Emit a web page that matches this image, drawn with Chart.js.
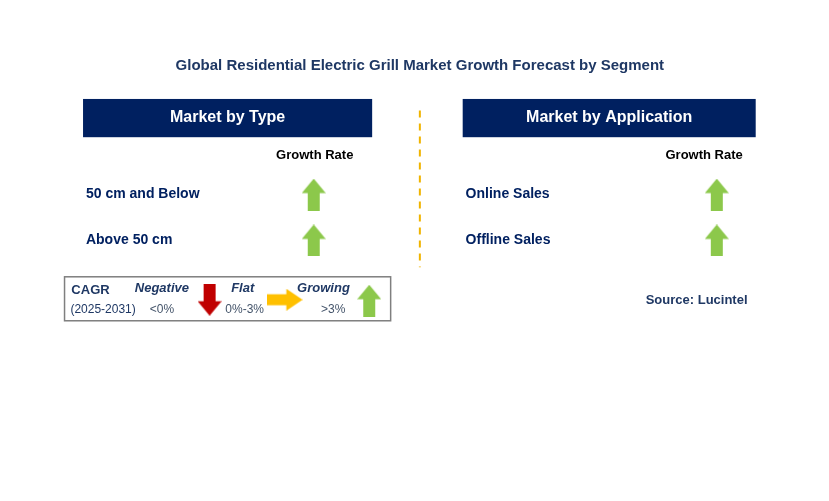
<!DOCTYPE html><html><head><meta charset="utf-8">
<script src="https://cdn.jsdelivr.net/npm/chart.js@4"></script>
<style>html,body{margin:0;padding:0;background:#fff}#w{width:829px;height:501px}</style></head><body>
<div id="w"><canvas id="c"></canvas></div>
<script>
const title = "Global Residential Electric Grill Market Growth Forecast by Segment";
const panels = ["Market by Type", "Market by Application"];
const typeCategories = ["50 cm and Below", "Above 50 cm"];
const appCategories = ["Online Sales", "Offline Sales"];
const typeGrowth = ["up", "up"];
const appGrowth = ["up", "up"];
const legendLabels = ["Negative", "Flat", "Growing"];
const legendRanges = ["<0%", "0%-3%", ">3%"];

function arrow(dir, color) {
  const c = document.createElement('canvas');
  const w = dir === 'right' ? 36 : 24, h = dir === 'right' ? 22 : 32;
  c.width = w; c.height = h;
  const g = c.getContext('2d'); g.fillStyle = color; g.beginPath();
  if (dir === 'up') { g.moveTo(w/2,0); g.lineTo(w,h*0.45); g.lineTo(w*0.75,h*0.45); g.lineTo(w*0.75,h); g.lineTo(w*0.25,h); g.lineTo(w*0.25,h*0.45); g.lineTo(0,h*0.45); }
  else if (dir === 'down') { g.moveTo(w/2,h); g.lineTo(w,h*0.55); g.lineTo(w*0.75,h*0.55); g.lineTo(w*0.75,0); g.lineTo(w*0.25,0); g.lineTo(w*0.25,h*0.55); g.lineTo(0,h*0.55); }
  else { g.moveTo(w,h/2); g.lineTo(w*0.55,0); g.lineTo(w*0.55,h*0.25); g.lineTo(0,h*0.25); g.lineTo(0,h*0.75); g.lineTo(w*0.55,h*0.75); g.lineTo(w*0.55,h); }
  g.closePath(); g.fill(); return c;
}
const upG = arrow('up', '#8cc84b'), downR = arrow('down', '#c00000'), rightY = arrow('right', '#ffc000');
const rowsY = [192, 240];
const dirImg = d => d === 'up' ? upG : d === 'down' ? downR : rightY;

const datasets = [
  {data: rowsY.map((y,i)=>({x:311,y})), pointStyle: typeGrowth.map(dirImg)},
  {data: rowsY.map((y,i)=>({x:725,y})), pointStyle: appGrowth.map(dirImg)},
  {data: [{x:204,y:302},{x:281,y:302},{x:368,y:303}], pointStyle: [downR, rightY, upG]}
].map(d => Object.assign(d, {showLine:false, pointRadius:10}));

const deco = {
  id: 'deco',
  afterDraw(ch) {
    const g = ch.ctx, X = v => ch.scales.x.getPixelForValue(v), Y = v => ch.scales.y.getPixelForValue(v);
    g.save(); g.textBaseline = 'middle';
    g.fillStyle = '#1f3864'; g.font = 'bold 15px Arial'; g.textAlign = 'center';
    g.fillText(title, X(420), Y(57));
    [[74,371],[464,765]].forEach(([a,b],i) => {
      g.fillStyle = '#002060'; g.fillRect(X(a), Y(92), X(b)-X(a), Y(132)-Y(92));
      g.fillStyle = '#fff'; g.font = 'bold 16px Arial'; g.fillText(panels[i], X((a+b)/2), Y(112));
    });
    g.fillStyle = '#000'; g.font = 'bold 13px Arial';
    g.fillText('Growth Rate', X(312), Y(151)); g.fillText('Growth Rate', X(712), Y(151));
    g.strokeStyle = '#f0b400'; g.lineWidth = 2; g.setLineDash([7,6]);
    g.beginPath(); g.moveTo(X(420), Y(104)); g.lineTo(X(420), Y(268)); g.stroke(); g.setLineDash([]);
    g.textAlign = 'left'; g.fillStyle = '#002060'; g.font = 'bold 14px Arial';
    typeCategories.forEach((t,i)=>g.fillText(t, X(77), Y(rowsY[i])));
    appCategories.forEach((t,i)=>g.fillText(t, X(467), Y(rowsY[i])));
    g.fillStyle = '#1f3864'; g.font = 'bold 13px Arial'; g.fillText('Source: Lucintel', X(652), Y(303));
    g.strokeStyle = '#7f7f7f'; g.lineWidth = 1.5; g.strokeRect(X(55), Y(278), X(390)-X(55), Y(324)-Y(278));
    g.fillStyle = '#1f3864'; g.font = 'bold 13px Arial'; g.fillText('CAGR', X(62), Y(292));
    g.font = '12px Arial'; g.fillText('(2025-2031)', X(61), Y(312));
    g.font = 'bold italic 13px Arial'; g.textAlign = 'center';
    [[155,legendLabels[0]],[238,legendLabels[1]],[321,legendLabels[2]]].forEach(([x,t])=>g.fillText(t, X(x), Y(290)));
    g.font = '12px Arial'; g.fillStyle = '#44546a';
    [[155,legendRanges[0]],[240,legendRanges[1]],[331,legendRanges[2]]].forEach(([x,t])=>g.fillText(t, X(x), Y(312)));
    g.restore();
  }
};
new Chart(document.getElementById('c'), {
  type: 'scatter', data: {datasets}, plugins: [deco],
  options: {responsive:true, maintainAspectRatio:false, animation:false, layout:{padding:0},
    plugins:{legend:{display:false}, tooltip:{enabled:false}},
    scales:{x:{type:'linear', min:0, max:829, display:false}, y:{type:'linear', min:0, max:501, reverse:true, display:false}}}
});
</script></body></html>
